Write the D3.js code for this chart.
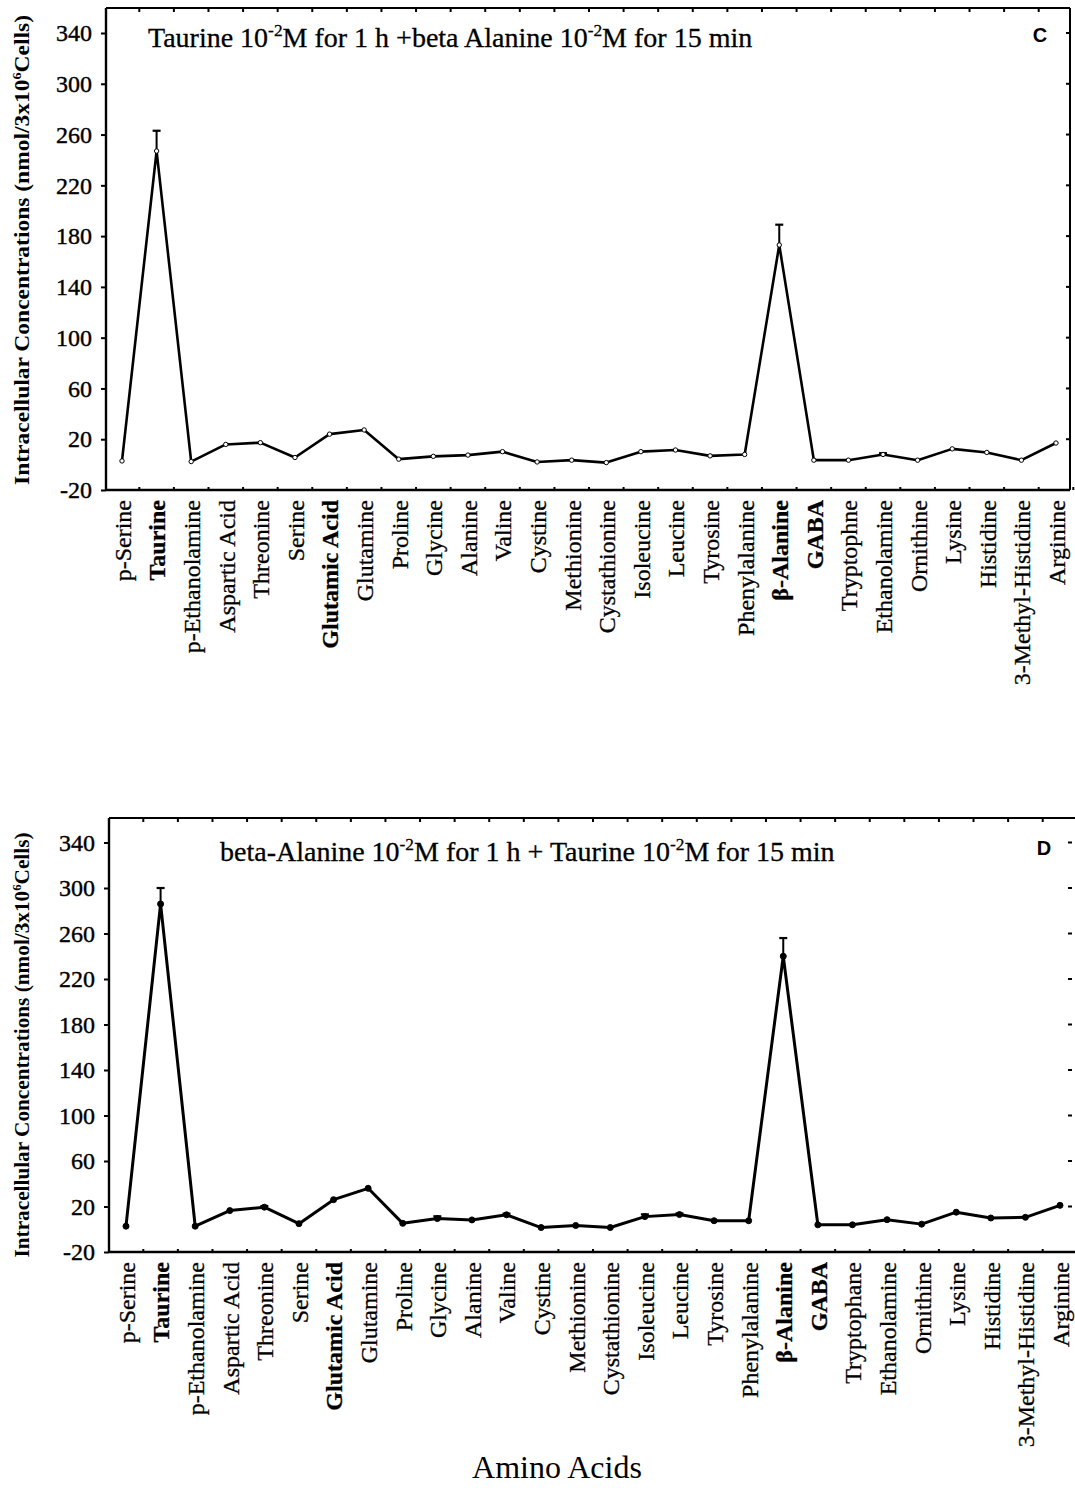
<!DOCTYPE html>
<html><head><meta charset="utf-8">
<script src="https://cdn.jsdelivr.net/npm/d3@7"></script>
<style>body{margin:0;background:#fff;} svg{display:block;}</style>
</head><body><svg id="chart" width="1075" height="1498"></svg>
<script>
const categoriesC = ["p-Serine","Taurine","p-Ethanolamine","Aspartic Acid","Threonine","Serine","Glutamic Acid","Glutamine","Proline","Glycine","Alanine","Valine","Cystine","Methionine","Cystathionine","Isoleucine","Leucine","Tyrosine","Phenylalanine","β-Alanine","GABA","Tryptophne","Ethanolamine","Ornithine","Lysine","Histidine","3-Methyl-Histidine","Arginine"];
const categoriesD = ["p-Serine","Taurine","p-Ethanolamine","Aspartic Acid","Threonine","Serine","Glutamic Acid","Glutamine","Proline","Glycine","Alanine","Valine","Cystine","Methionine","Cystathionine","Isoleucine","Leucine","Tyrosine","Phenylalanine","β-Alanine","GABA","Tryptophane","Ethanolamine","Ornithine","Lysine","Histidine","3-Methyl-Histidine","Arginine"];
const boldLabels = ["Taurine","Glutamic Acid","β-Alanine","GABA"];
const valuesC = [2.9,247,2.4,15.9,17.3,5.6,24,27.3,4.3,6.5,7.5,10.2,2.1,3.5,1.6,10.2,11.5,6.9,8,173,3.5,3.5,8,3.5,12.4,9.6,3.5,17];
const errorsC = [0,16,0,0,0,0,0,0,0,0,0,0,0,0,0,0,0,0,0,16,0,0,1,0,0,0,0,0];
const valuesD = [2.7,286,2.7,16.4,19.4,4.9,26,36,5.2,9.4,8.2,12.7,1.5,3.3,1.5,11.1,12.9,7.5,7.5,240,3.9,3.9,8.4,4.5,15,9.9,10.5,21];
const errorsD = [0,14,0,0,1,0,0,0,0,2,0,1,0,0,0,2,1,0,0,16,0,0,0,0,0,0,0,0];
const yTickValues = [-20,20,60,100,140,180,220,260,300,340];
const titleC = [["Taurine 10",""],["-2","sup"],["M for 1 h +beta Alanine 10",""],["-2","sup"],["M for 15 min",""]];
const titleD = [["beta-Alanine 10",""],["-2","sup"],["M for 1 h + Taurine 10",""],["-2","sup"],["M for 15 min",""]];
const yLabelParts = [["Intracellular Concentrations (nmol/3x10",""],["6","sup"],["Cells)",""]];
const xAxisTitle = "Amino Acids";

const svg = d3.select("#chart");
const serif = "'Liberation Serif','Times New Roman',serif";
const sans = "'Liberation Sans',Arial,sans-serif";

function drawPanel(cfg) {
  const g = svg.append("g");
  const x = d3.scalePoint().domain(cfg.categories).range([cfg.xStart, cfg.xEnd]);
  const y = d3.scaleLinear().domain([-20, 340]).range([cfg.bottom, cfg.y340]);
  const step = x.step();

  // frame lines
  g.append("line").attr("x1", cfg.left).attr("x2", cfg.left).attr("y1", cfg.top).attr("y2", cfg.bottom)
    .attr("stroke", "#000").attr("stroke-width", 2.4);
  g.append("line").attr("x1", cfg.left).attr("x2", cfg.frameRightLine).attr("y1", cfg.bottom).attr("y2", cfg.bottom)
    .attr("stroke", "#000").attr("stroke-width", 2.4);
  g.append("line").attr("x1", cfg.left).attr("x2", cfg.frameRightLine).attr("y1", cfg.top).attr("y2", cfg.top)
    .attr("stroke", "#000").attr("stroke-width", 2);
  if (cfg.rightBorder) {
    g.append("line").attr("x1", cfg.right).attr("x2", cfg.right).attr("y1", cfg.top).attr("y2", cfg.bottom)
      .attr("stroke", "#000").attr("stroke-width", 2);
  }

  // left y axis
  const yAxis = d3.axisLeft(y).tickValues(yTickValues).tickSize(5).tickPadding(9).tickFormat(d3.format("d"));
  const ya = g.append("g").attr("transform", `translate(${cfg.left},0)`).call(yAxis);
  ya.select(".domain").remove();
  ya.selectAll(".tick line").attr("stroke", "#000").attr("stroke-width", 2);
  ya.selectAll(".tick text").attr("font-family", serif).attr("font-size", 24).attr("fill", "#000")
    .attr("stroke", "#000").attr("stroke-width", 0.4)
    .text(d => d < 0 ? "-" + Math.abs(d) : d);

  // right ticks (inward)
  g.selectAll(".rtick").data(yTickValues).join("line")
    .attr("x1", cfg.right - 4).attr("x2", cfg.right).attr("y1", d => y(d)).attr("y2", d => y(d))
    .attr("stroke", "#000").attr("stroke-width", 2);

  // category boundary ticks on top and bottom (inward)
  const bounds = cfg.categories.slice(1).map(c => x(c) - step / 2);
  bounds.push(x(cfg.categories[cfg.categories.length - 1]) + step / 2);
  g.selectAll(".btick").data(bounds).join("line")
    .attr("x1", d => d).attr("x2", d => d).attr("y1", cfg.bottom).attr("y2", cfg.bottom - 3)
    .attr("stroke", "#000").attr("stroke-width", 2);
  g.selectAll(".ttick").data(bounds.filter(d => d < cfg.right)).join("line")
    .attr("x1", d => d).attr("x2", d => d).attr("y1", cfg.top).attr("y2", cfg.top + 4)
    .attr("stroke", "#000").attr("stroke-width", 2);

  // x category labels
  const xAxis = d3.axisBottom(x).tickSize(0).tickPadding(0);
  const xa = g.append("g").attr("transform", `translate(0,${cfg.bottom})`).call(xAxis);
  xa.select(".domain").remove();
  xa.selectAll(".tick text")
    .attr("font-family", serif).attr("font-size", 24).attr("fill", "#000")
    .attr("stroke", "#000").attr("stroke-width", 0.3)
    .attr("font-weight", d => boldLabels.includes(d) ? "bold" : "normal")
    .attr("text-anchor", "end").attr("dy", "0.35em")
    .attr("transform", "translate(0,10) rotate(-90)")
    .attr("x", 0).attr("y", 0);

  // data
  const pts = cfg.categories.map((c, i) => ({c, v: cfg.values[i], e: cfg.errors[i]}));
  const line = d3.line().x(d => x(d.c)).y(d => y(d.v));
  g.append("path").datum(pts).attr("d", line).attr("fill", "none")
    .attr("stroke", "#000").attr("stroke-width", cfg.lineWidth).attr("stroke-linejoin", "round");

  // error bars (upper)
  const eb = g.selectAll(".eb").data(pts.filter(d => d.e > 0)).join("g");
  eb.append("line").attr("x1", d => x(d.c)).attr("x2", d => x(d.c))
    .attr("y1", d => y(d.v)).attr("y2", d => y(d.v + d.e)).attr("stroke", "#000").attr("stroke-width", 2);
  eb.append("line").attr("x1", d => x(d.c) - 4).attr("x2", d => x(d.c) + 4)
    .attr("y1", d => y(d.v + d.e)).attr("y2", d => y(d.v + d.e)).attr("stroke", "#000").attr("stroke-width", 2.2);

  // markers
  g.selectAll(".pt").data(pts).join("circle")
    .attr("cx", d => x(d.c)).attr("cy", d => y(d.v)).attr("r", cfg.markerR)
    .attr("fill", cfg.markerFill).attr("stroke", "#000").attr("stroke-width", 1);

  // title
  const t = g.append("text").attr("x", cfg.titleX).attr("y", cfg.titleY)
    .attr("font-family", serif).attr("font-size", cfg.titleSize).attr("fill", "#000")
    .attr("stroke", "#000").attr("stroke-width", 0.3);
  cfg.title.forEach(([s, k], i) => {
    const ts = t.append("tspan").text(s);
    if (k === "sup") ts.attr("font-size", cfg.titleSize * 0.62).attr("dy", -11);
    else if (i > 0) ts.attr("dy", 11);
  });

  // panel letter
  g.append("text").attr("x", cfg.letterX).attr("y", cfg.letterY).attr("text-anchor", "middle")
    .attr("font-family", sans).attr("font-weight", "bold").attr("font-size", 20).attr("fill", "#000")
    .text(cfg.letter);

  // y label
  const yl = g.append("text")
    .attr("transform", `translate(29,${cfg.yLabelCenter}) rotate(-90)`)
    .attr("text-anchor", "middle").attr("font-family", serif).attr("font-weight", "bold")
    .attr("font-size", 20).attr("fill", "#000")
    .attr("textLength", cfg.yLabelLength).attr("lengthAdjust", "spacingAndGlyphs");
  yLabelParts.forEach(([s, k], i) => {
    const ts = yl.append("tspan").text(s);
    if (k === "sup") ts.attr("font-size", 12).attr("dy", -8);
    else if (i > 0) ts.attr("dy", 8);
  });
}

drawPanel({
  categories: categoriesC, values: valuesC, errors: errorsC,
  left: 106, right: 1070, frameRightLine: 1070, rightBorder: true,
  top: 8, bottom: 490, y340: 33, xStart: 122, xEnd: 1056,
  lineWidth: 2.6, markerR: 2.2, markerFill: "#fff",
  title: titleC, titleX: 148, titleY: 47, titleSize: 28,
  letter: "C", letterX: 1040, letterY: 42,
  yLabelCenter: 250, yLabelLength: 470
});
drawPanel({
  categories: categoriesD, values: valuesD, errors: errorsD,
  left: 109, right: 1072, frameRightLine: 1075, rightBorder: false,
  top: 818, bottom: 1252, y340: 842.5, xStart: 126, xEnd: 1060,
  lineWidth: 3, markerR: 3, markerFill: "#000",
  title: titleD, titleX: 220, titleY: 861, titleSize: 28,
  letter: "D", letterX: 1044, letterY: 855,
  yLabelCenter: 1045, yLabelLength: 425
});

svg.append("text").attr("x", 557).attr("y", 1478).attr("text-anchor", "middle")
  .attr("font-family", serif).attr("font-size", 32).attr("fill", "#000").text(xAxisTitle);
</script></body></html>
